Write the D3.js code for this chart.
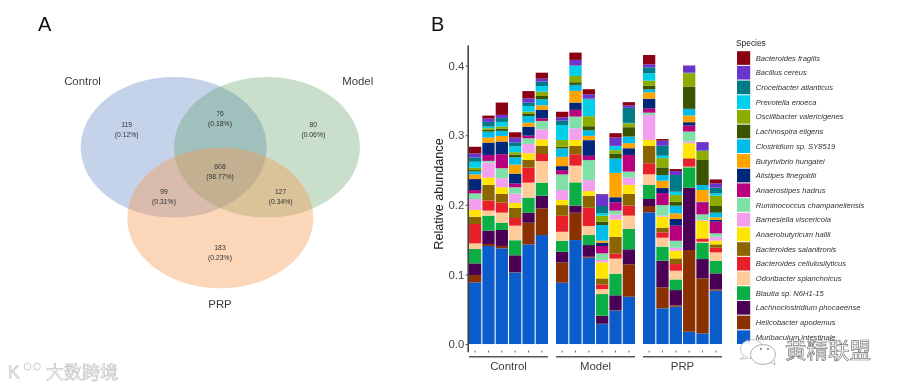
<!DOCTYPE html>
<html>
<head>
<meta charset="utf-8">
<script src="https://cdnjs.cloudflare.com/ajax/libs/d3/7.8.5/d3.min.js"></script>
<style>
  html, body { margin: 0; background: #fff; }
  svg { display: block; font-family: "Liberation Sans", Arial, sans-serif; filter: blur(0.35px); }
</style>
</head>
<body>
<svg id="chart" width="900" height="389"></svg>
<script>
// Venn counts
const vennSets = ['Control', 'Model', 'PRP'];
const vennCounts = ['119', '76', '80', '608', '99', '127', '183'];
const vennPercents = ['(0.12%)', '(0.18%)', '(0.06%)', '(98.77%)', '(0.31%)', '(0.34%)', '(0.23%)'];

// Stacked bars, bottom of stack first
const species = [
  'Muribaculum intestinale', 'Helicobacter apodemus', 'Lachnoclostridium phocaeense',
  'Blautia sp. N6H1-15', 'Odoribacter splanchnicus', 'Bacteroides cellulosilyticus',
  'Bacteroides salanitronis', 'Anaerobutyricum hallii', 'Barnesiella viscericola',
  'Ruminococcus champanellensis', 'Anaerostipes hadrus', 'Alistipes finegoldii',
  'Butyrivibrio hungatei', 'Clostridium sp. SY8519', 'Lachnospira eligens',
  'Oscillibacter valericigenes', 'Prevotella enoeca', 'Croceibacter atlanticus',
  'Bacillus cereus', 'Bacteroides fragilis',
];
const speciesColors = [
  '#0b5ccb', '#8b3000', '#4a0055', '#0bae45', '#ffcc99', '#e8202a', '#8b6500',
  '#ffe600', '#f2a0ee', '#7fe0a8', '#b8007f', '#00277a', '#ffa300', '#00bce8',
  '#3b5400', '#8dac00', '#00cfea', '#007a87', '#6a35cc', '#8b0012',
];
const groups = ['Control', 'Model', 'PRP'];

const control1 = [.0886, .0105, .0168, .0206, .0081, .0278, .0105, .0096, .0158, .0081, .0048, .0158, .0067, .0043, .0019, .0034, .0086, .0062, .0057, .0096];
const control2 = [.1408, .0029, .0192, .0216, .0072, .0144, .0225, .0105, .0216, .0024, .0086, .0177, .0072, .0086, .0024, .0024, .0024, .0067, .0048, .0043];
const control3 = [.1375, .0034, .0230, .0105, .0144, .0144, .0125, .0096, .0129, .0144, .0201, .0182, .0081, .0072, .0034, .0029, .0067, .0057, .0043, .0177];
const control4 = [.1030, .0005, .0240, .0216, .0210, .0110, .0144, .0072, .0134, .0091, .0053, .0144, .0129, .0105, .0038, .0034, .0086, .0057, .0067, .0077];
const control5 = [.1432, .0311, .0144, .0216, .0216, .0216, .0110, .0096, .0134, .0081, .0038, .0129, .0057, .0096, .0038, .0024, .0081, .0048, .0062, .0105];
const control6 = [.1566, .0383, .0182, .0187, .0311, .0101, .0120, .0091, .0144, .0120, .0038, .0120, .0067, .0086, .0048, .0062, .0081, .0062, .0043, .0086];
const model1 = [.0881, .0292, .0153, .0158, .0129, .0230, .0153, .0072, .0144, .0225, .0062, .0057, .0134, .0120, .0024, .0096, .0216, .0062, .0048, .0081];
const model2 = [.1494, .0393, .0101, .0335, .0240, .0163, .0120, .0086, .0168, .0168, .0096, .0105, .0168, .0086, .0038, .0091, .0144, .0005, .0081, .0105];
const model3 = [.1240, .0014, .0168, .0144, .0129, .0263, .0172, .0067, .0158, .0287, .0062, .0225, .0062, .0081, .0057, .0144, .0240, .0014, .0062, .0072];
const model4 = [.0287, .0005, .0115, .0311, .0072, .0067, .0086, .0230, .0034, .0096, .0105, .0048, .0029, .0225, .0048, .0086, .0034, .0105, .0168, .0005];
const model5 = [.0479, .0005, .0216, .0311, .0216, .0072, .0240, .0249, .0072, .0057, .0120, .0072, .0350, .0206, .0072, .0048, .0057, .0005, .0120, .0062];
const model6 = [.0680, .0465, .0216, .0292, .0192, .0144, .0168, .0129, .0105, .0086, .0240, .0096, .0072, .0096, .0134, .0057, .0005, .0216, .0034, .0048];
const prp1 = [.1892, .0091, .0101, .0201, .0153, .0158, .0249, .0086, .0359, .0034, .0062, .0139, .0091, .0043, .0053, .0072, .0105, .0086, .0043, .0134];
const prp2 = [.0513, .0302, .0383, .0201, .0129, .0077, .0067, .0158, .0014, .0153, .0172, .0072, .0105, .0081, .0110, .0134, .0034, .0144, .0072, .0024];
const prp3 = [.0536, .0019, .0220, .0153, .0125, .0096, .0081, .0110, .0043, .0101, .0216, .0096, .0081, .0110, .0057, .0096, .0048, .0240, .0057, .0029];
const prp4 = [.0177, .1174, .0896, .0292, .0010, .0110, .0010, .0216, .0024, .0144, .0086, .0048, .0096, .0096, .0321, .0192, .0003, .0003, .0101, .0003];
const prp5 = [.0153, .0790, .0278, .0235, .0014, .0043, .0005, .0254, .0010, .0081, .0172, .0010, .0168, .0072, .0359, .0129, .0003, .0003, .0120, .0003];
const prp6 = [.0766, .0019, .0230, .0182, .0120, .0067, .0048, .0053, .0057, .0048, .0168, .0024, .0038, .0067, .0096, .0148, .0034, .0081, .0062, .0057];

const samples = [
  control1, control2, control3, control4, control5, control6,
  model1, model2, model3, model4, model5, model6,
  prp1, prp2, prp3, prp4, prp5, prp6,
].map((values, i) => {
  const row = { group: groups[Math.floor(i / 6)], rep: i % 6 };
  species.forEach((s, j) => { row[s] = values[j]; });
  return row;
});

const svg = d3.select('#chart');
const ink = '#3d3d3d';

svg.append('rect').attr('width', 900).attr('height', 389).attr('fill', '#fff');

// panel letters
svg.selectAll('.panel-letter').data([['A', 38, 31], ['B', 431, 30.5]])
  .enter().append('text')
    .attr('class', 'panel-letter')
    .attr('x', d => d[1])
    .attr('y', d => d[2])
    .attr('font-size', 20)
    .attr('fill', '#111')
    .text(d => d[0]);

// ---- panel A: venn
const vennEllipses = [
  { cx: 173.7, cy: 147.3, fill: '#8ca8d6', alpha: 0.5 },
  { cx: 267, cy: 147.3, fill: '#4b9555', alpha: 0.3 },
  { cx: 220.3, cy: 218, fill: '#f5984d', alpha: 0.4 },
];
const venn = svg.append('g');
venn.selectAll('ellipse').data(vennEllipses)
  .enter().append('ellipse')
    .attr('cx', d => d.cx)
    .attr('cy', d => d.cy)
    .attr('rx', 93)
    .attr('ry', 70.3)
    .attr('fill', d => d.fill)
    .attr('fill-opacity', d => d.alpha);

const vennNamePos = [[82.5, 84.5], [357.7, 84.5], [220, 307.5]];
venn.selectAll('.set-name').data(vennSets)
  .enter().append('text')
    .attr('class', 'set-name')
    .attr('x', (d, i) => vennNamePos[i][0])
    .attr('y', (d, i) => vennNamePos[i][1])
    .attr('text-anchor', 'middle')
    .attr('font-size', 11.4)
    .attr('fill', ink)
    .text(d => d);

const vennTextPos = [[126.7, 127], [220, 116.3], [313.3, 127], [220, 169.3], [164, 194.2], [280.7, 194.2], [220, 250.3]];
const regions = venn.selectAll('.region').data(vennCounts)
  .enter().append('g')
    .attr('class', 'region')
    .attr('transform', (d, i) => `translate(${vennTextPos[i]})`)
    .attr('text-anchor', 'middle')
    .attr('font-size', 6.8)
    .attr('fill', '#333');
regions.append('text').text(d => d);
regions.append('text').attr('y', 10).text((d, i) => vennPercents[i]);

// ---- panel B: stacked bars
const y = d3.scaleLinear()
  .domain([-0.011, 0.4296])
  .range([351.7, 45]);

const xGroup = d3.scaleBand()
  .domain(groups)
  .range([469, 722])
  .paddingInner(8 / 87);

const xRep = d3.scaleBand()
  .domain(d3.range(6))
  .range([0, xGroup.bandwidth()])
  .paddingInner(0.08);

const color = d3.scaleOrdinal().domain(species).range(speciesColors);
const stacked = d3.stack().keys(species)(samples);

const bars = svg.append('g');
bars.selectAll('g').data(stacked)
  .enter().append('g')
    .attr('fill', d => color(d.key))
  .selectAll('rect').data(d => d)
  .enter().append('rect')
    .attr('x', d => xGroup(d.data.group) + xRep(d.data.rep))
    .attr('width', xRep.bandwidth())
    .attr('y', d => y(d[1]))
    .attr('height', d => y(d[0]) - y(d[1]));

const yAxis = svg.append('g')
  .attr('transform', 'translate(467.7,0)')
  .call(d3.axisLeft(y)
    .tickValues([0, 0.1, 0.2, 0.3, 0.4])
    .tickFormat(d3.format('.1f'))
    .tickSize(2)
    .tickSizeOuter(0));
yAxis.selectAll('.domain').attr('stroke', '#444').attr('stroke-width', 1.6);
yAxis.selectAll('.tick line').attr('stroke', '#444');
yAxis.selectAll('text')
  .attr('font-family', '"Liberation Sans", Arial, sans-serif')
  .attr('font-size', 11.3)
  .attr('fill', '#444')
  .attr('x', -3.5);

svg.append('text')
  .attr('transform', 'translate(443,194) rotate(-90)')
  .attr('text-anchor', 'middle')
  .attr('font-size', 12.6)
  .attr('fill', '#222')
  .text('Relative abundance');

// small x ticks and group brackets under the bars
const facets = svg.selectAll('.facet').data(groups)
  .enter().append('g')
    .attr('class', 'facet')
    .attr('transform', d => `translate(${xGroup(d)},0)`);
facets.selectAll('line.rep').data(d3.range(6))
  .enter().append('line')
    .attr('class', 'rep')
    .attr('x1', d => xRep(d) + xRep.bandwidth() / 2)
    .attr('x2', d => xRep(d) + xRep.bandwidth() / 2)
    .attr('y1', 350.5)
    .attr('y2', 352.5)
    .attr('stroke', '#666')
    .attr('stroke-width', 1);
facets.append('line')
  .attr('x1', 0)
  .attr('x2', xGroup.bandwidth())
  .attr('y1', 356.7)
  .attr('y2', 356.7)
  .attr('stroke', '#555')
  .attr('stroke-width', 1.6);
facets.append('text')
  .attr('x', xGroup.bandwidth() / 2)
  .attr('y', 369.5)
  .attr('text-anchor', 'middle')
  .attr('font-size', 11.4)
  .attr('fill', ink)
  .text(d => d);

// legend, top of stack first
const legendY = d3.scaleBand()
  .domain(species.slice().reverse())
  .range([51.2, 344])
  .paddingInner(0.07);

svg.append('text')
  .attr('x', 736)
  .attr('y', 45.5)
  .attr('font-size', 8.4)
  .attr('fill', '#222')
  .text('Species');

const legendRows = svg.selectAll('.legend-row').data(legendY.domain())
  .enter().append('g')
    .attr('class', 'legend-row')
    .attr('transform', d => `translate(737,${legendY(d)})`);
legendRows.append('rect')
  .attr('width', 13.2)
  .attr('height', legendY.bandwidth())
  .attr('fill', d => color(d));
legendRows.append('text')
  .attr('x', 18.8)
  .attr('y', legendY.bandwidth() / 2 + 2.7)
  .attr('font-size', 7.6)
  .attr('font-style', 'italic')
  .attr('fill', '#333')
  .text(d => d);

// ---- watermarks sitting over the figure
const markRight = svg.append('g');
markRight.append('ellipse')
  .attr('cx', 752).attr('cy', 349).attr('rx', 11.5).attr('ry', 9.5)
  .attr('fill', '#fff').attr('fill-opacity', 0.9).attr('stroke', '#aaa').attr('stroke-width', 0.7);
markRight.append('path')
  .attr('d', 'M744 356 L740 359 L747 358.5')
  .attr('fill', '#fff').attr('stroke', '#aaa').attr('stroke-width', 0.7);
markRight.append('ellipse')
  .attr('cx', 763).attr('cy', 354.5).attr('rx', 12.5).attr('ry', 10)
  .attr('fill', '#fff').attr('stroke', '#999').attr('stroke-width', 0.8);
markRight.append('path')
  .attr('d', 'M771 362 L775 365 L774 360')
  .attr('fill', '#fff').attr('stroke', '#999').attr('stroke-width', 0.7);
markRight.selectAll('circle').data([[749, 340.5], [761, 349], [768, 349]])
  .enter().append('circle')
    .attr('cx', d => d[0]).attr('cy', d => d[1]).attr('r', 0.9)
    .attr('fill', '#667');
markRight.append('text')
  .attr('x', 785)
  .attr('y', 357.5)
  .attr('font-family', '"Noto Sans CJK SC"')
  .attr('font-size', 21.5)
  .attr('fill', '#fff')
  .attr('stroke', '#777')
  .attr('stroke-width', 0.7)
  .text('黄精联盟');

const markLeft = svg.append('g');
markLeft.append('text')
  .attr('x', 8)
  .attr('y', 378)
  .attr('font-size', 17)
  .attr('fill', '#fff')
  .attr('stroke', '#ccc')
  .attr('stroke-width', 0.9)
  .text('K');
markLeft.selectAll('circle').data([[27.5, 366.5], [37, 366.5]])
  .enter().append('circle')
    .attr('cx', d => d[0]).attr('cy', d => d[1]).attr('r', 3.4)
    .attr('fill', '#fff').attr('stroke', '#ccc').attr('stroke-width', 1);
markLeft.append('text')
  .attr('x', 46)
  .attr('y', 379)
  .attr('font-family', '"Noto Sans CJK SC"')
  .attr('font-size', 18)
  .attr('fill', '#fff')
  .attr('stroke', '#c4c4c4')
  .attr('stroke-width', 0.7)
  .text('大数跨境');
</script>
</body>
</html>
